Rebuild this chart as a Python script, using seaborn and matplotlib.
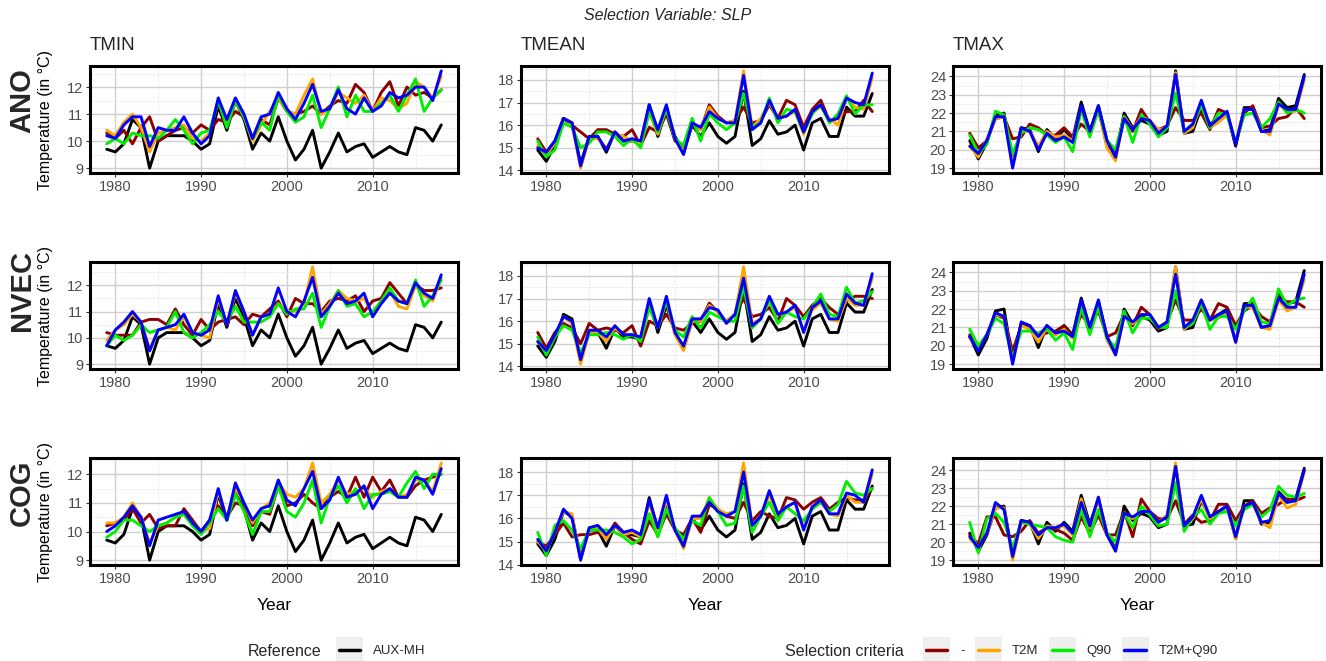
import matplotlib

matplotlib.use("Agg")
import matplotlib.pyplot as plt
from matplotlib.legend_handler import HandlerBase
from matplotlib.lines import Line2D
from matplotlib.patches import Rectangle
from matplotlib.ticker import MultipleLocator
import numpy as np
import pandas as pd
import seaborn as sns

# ---- data ----
YEARS = np.arange(1979, 2019)

ROWS = ["ANO", "NVEC", "COG"]
COLS = ["TMIN", "TMEAN", "TMAX"]
CRITERIA = ["-", "T2M", "Q90", "T2M+Q90"]
REF_NAME = "AUX-MH"

# reference series (same in every row)
REF_TMIN = [9.7, 9.6, 9.9, 10.8, 10.5, 9.0, 10.0, 10.2, 10.2, 10.2, 10.0, 9.7, 9.9, 11.3, 10.4, 11.5, 10.8, 9.7, 10.3, 10.0,
            10.9, 10.0, 9.3, 9.7, 10.4, 9.0, 9.6, 10.3, 9.6, 9.8, 9.9, 9.4, 9.6, 9.8, 9.6, 9.5, 10.5, 10.4, 10.0, 10.6]
REF_TMEAN = [14.9, 14.4, 15.1, 16.3, 16.1, 14.3, 15.5, 15.5, 14.8, 15.7, 15.3, 15.3, 15.2, 16.9, 15.5, 16.7, 15.5, 14.8, 16.0, 15.5,
             16.1, 15.5, 15.2, 15.5, 17.5, 15.1, 15.4, 16.2, 15.6, 15.7, 16.0, 14.9, 16.1, 16.3, 15.5, 15.5, 16.8, 16.4, 16.4, 17.4]
REF_TMAX = [20.5, 19.5, 20.4, 21.9, 22.0, 19.2, 21.2, 21.1, 19.9, 21.1, 20.6, 21.1, 20.6, 22.6, 21.0, 22.4, 20.5, 19.6, 22.0, 21.2,
            21.6, 21.4, 20.8, 21.0, 24.3, 20.9, 21.0, 22.3, 21.4, 21.7, 22.0, 20.2, 22.3, 22.3, 21.0, 21.1, 22.8, 22.3, 22.4, 24.1]

# ANO
ANO_TMIN_NONE = [10.3, 10.1, 10.4, 9.9, 10.5, 10.9, 10.0, 10.2, 10.4, 10.5, 10.3, 10.6, 10.4, 10.8, 10.7, 11.1, 10.9, 10.1, 10.8, 10.6,
                 11.6, 11.1, 11.0, 11.1, 11.3, 11.0, 11.3, 11.5, 11.4, 12.1, 11.8, 11.1, 11.8, 12.2, 11.3, 12.0, 11.7, 11.8, 11.6, 11.9]
ANO_TMIN_T2M = [10.4, 10.2, 10.7, 11.0, 10.5, 9.6, 10.3, 10.4, 10.5, 10.6, 10.1, 10.0, 10.3, 11.5, 10.7, 11.5, 10.9, 10.0, 10.6, 11.1,
                11.6, 11.1, 11.0, 11.7, 12.3, 11.0, 11.2, 11.8, 11.6, 11.4, 11.7, 11.1, 11.6, 11.5, 11.2, 11.4, 12.2, 12.0, 11.6, 12.4]
ANO_TMIN_Q90 = [9.9, 10.1, 9.9, 10.3, 10.2, 10.2, 10.1, 10.4, 10.8, 10.4, 9.9, 10.3, 10.4, 11.5, 10.5, 11.5, 10.9, 10.1, 10.7, 10.4,
                11.7, 11.1, 10.7, 10.9, 11.7, 10.5, 11.2, 12.0, 10.9, 11.7, 11.1, 11.1, 11.4, 11.7, 11.1, 11.7, 12.3, 11.1, 11.6, 11.9]
ANO_TMIN_BOTH = [10.2, 10.1, 10.6, 10.9, 10.9, 9.8, 10.5, 10.4, 10.4, 10.9, 10.3, 9.9, 10.2, 11.6, 10.8, 11.6, 11.0, 10.1, 10.9, 11.0,
                 11.8, 11.2, 10.8, 11.4, 12.1, 11.1, 11.2, 11.9, 11.2, 11.0, 11.6, 11.1, 11.3, 11.8, 11.6, 11.7, 12.0, 12.0, 11.5, 12.6]

ANO_TMEAN_NONE = [15.4, 14.8, 15.3, 16.3, 16.0, 15.7, 15.4, 15.8, 15.8, 15.6, 15.5, 15.8, 15.1, 15.9, 15.7, 16.5, 15.3, 15.1, 16.1, 15.8,
                  16.9, 16.4, 16.1, 16.2, 16.8, 16.1, 16.2, 16.9, 16.3, 17.1, 16.9, 15.9, 16.7, 17.1, 16.2, 16.3, 16.6, 16.6, 17.1, 16.6]
ANO_TMEAN_T2M = [15.1, 14.7, 15.2, 16.1, 16.0, 14.1, 15.4, 15.4, 15.0, 15.6, 15.5, 15.3, 15.2, 16.6, 15.6, 16.8, 15.4, 14.8, 16.1, 15.8,
                 16.8, 16.3, 16.1, 16.2, 18.4, 15.9, 16.3, 17.0, 16.3, 16.4, 16.6, 15.6, 16.6, 16.8, 16.3, 16.0, 17.2, 16.8, 16.7, 18.1]
ANO_TMEAN_Q90 = [15.3, 14.6, 14.9, 16.1, 15.9, 15.0, 15.2, 15.7, 15.7, 15.5, 15.1, 15.4, 15.0, 16.6, 15.7, 16.7, 15.4, 15.1, 16.3, 15.3,
                 16.5, 16.1, 15.8, 16.1, 17.4, 15.9, 16.1, 17.2, 16.1, 16.7, 16.6, 15.7, 16.5, 16.9, 16.1, 16.5, 17.3, 16.5, 16.9, 16.9]
ANO_TMEAN_BOTH = [15.0, 14.8, 15.3, 16.3, 16.1, 14.2, 15.5, 15.5, 14.9, 15.7, 15.3, 15.4, 15.3, 16.9, 15.8, 16.9, 15.4, 14.7, 16.1, 15.9,
                  16.6, 16.3, 16.1, 16.1, 18.2, 15.8, 16.1, 17.1, 16.3, 16.4, 16.7, 15.7, 16.6, 16.9, 16.2, 16.3, 17.2, 17.0, 16.9, 18.3]

ANO_TMAX_NONE = [20.9, 20.1, 20.5, 21.7, 21.8, 20.6, 20.7, 21.4, 21.2, 20.8, 20.8, 21.2, 20.7, 21.4, 21.0, 22.2, 20.2, 19.9, 21.8, 21.0,
                 22.2, 21.5, 21.1, 21.3, 22.3, 21.6, 21.6, 22.0, 21.1, 22.2, 22.0, 20.3, 22.0, 22.4, 21.2, 21.3, 21.7, 21.8, 22.3, 21.7]
ANO_TMAX_T2M = [20.2, 19.6, 20.6, 21.7, 21.8, 19.2, 21.0, 21.0, 20.2, 21.0, 20.7, 20.8, 20.5, 22.3, 20.8, 22.3, 20.1, 19.4, 21.8, 21.1,
                21.8, 21.6, 21.1, 21.2, 24.2, 20.9, 21.2, 22.6, 21.2, 21.5, 21.9, 20.4, 22.2, 22.2, 21.1, 20.8, 22.5, 22.1, 22.1, 23.8]
ANO_TMAX_Q90 = [20.8, 19.8, 20.3, 22.1, 21.9, 19.8, 20.9, 21.2, 21.1, 20.8, 20.4, 20.7, 19.9, 22.2, 20.7, 22.2, 20.5, 20.0, 21.8, 20.4,
                21.9, 21.4, 20.7, 21.2, 23.1, 21.0, 21.4, 22.4, 21.2, 22.0, 21.9, 20.4, 21.9, 22.0, 21.2, 21.7, 22.6, 22.0, 22.2, 22.0]
ANO_TMAX_BOTH = [20.2, 19.8, 20.5, 21.8, 21.8, 19.0, 21.2, 21.0, 20.0, 20.9, 20.5, 20.7, 20.4, 22.4, 21.0, 22.4, 20.5, 19.6, 21.7, 21.1,
                 21.7, 21.6, 20.9, 21.3, 24.1, 21.0, 21.4, 22.7, 21.3, 21.7, 22.1, 20.3, 22.2, 22.2, 21.0, 21.0, 22.5, 22.2, 22.2, 24.0]

# NVEC
NVEC_TMIN_NONE = [10.2, 10.1, 10.1, 10.1, 10.6, 10.7, 10.7, 10.5, 11.1, 10.5, 10.1, 10.7, 10.3, 10.6, 10.7, 10.8, 10.5, 10.9, 10.8, 11.1,
                  11.4, 10.8, 11.5, 11.3, 11.3, 11.0, 11.4, 11.5, 11.4, 11.6, 11.0, 11.4, 11.5, 12.1, 11.7, 11.3, 12.0, 11.8, 11.8, 11.9]
NVEC_TMIN_T2M = [9.9, 10.3, 10.5, 10.9, 10.6, 9.6, 10.3, 10.4, 10.3, 10.8, 10.2, 10.1, 10.0, 11.5, 10.5, 11.7, 11.0, 10.1, 10.8, 10.9,
                 11.3, 11.0, 11.0, 11.3, 12.7, 10.9, 11.3, 11.8, 11.5, 11.4, 11.5, 10.9, 11.4, 11.8, 11.2, 11.1, 12.0, 11.6, 11.4, 12.3]
NVEC_TMIN_Q90 = [9.7, 10.1, 9.9, 10.1, 10.5, 10.2, 10.3, 10.4, 11.0, 10.2, 10.0, 10.2, 10.5, 11.0, 10.6, 11.2, 10.6, 10.6, 10.6, 10.8,
                 11.3, 10.9, 11.1, 11.1, 11.7, 10.4, 11.2, 11.8, 11.2, 11.3, 10.8, 11.0, 11.4, 11.9, 11.4, 11.3, 12.2, 11.2, 11.6, 12.2]
NVEC_TMIN_BOTH = [9.7, 10.3, 10.6, 11.0, 10.6, 9.5, 10.3, 10.4, 10.5, 10.9, 10.2, 10.1, 10.3, 11.6, 10.5, 11.8, 11.0, 10.1, 10.8, 10.9,
                  11.9, 11.0, 10.8, 11.4, 12.3, 10.8, 11.2, 11.7, 11.3, 11.4, 11.7, 10.8, 11.3, 11.7, 11.4, 11.3, 12.1, 11.7, 11.5, 12.4]

NVEC_TMEAN_NONE = [15.5, 14.8, 15.5, 15.9, 15.7, 15.0, 15.9, 15.6, 15.7, 15.6, 15.5, 15.8, 14.9, 16.0, 15.8, 16.3, 15.7, 15.6, 15.9, 16.0,
                   16.8, 16.4, 16.0, 16.3, 17.0, 16.2, 16.3, 16.6, 16.0, 17.0, 16.7, 16.2, 16.7, 17.0, 16.6, 16.3, 16.9, 17.1, 17.1, 17.0]
NVEC_TMEAN_T2M = [15.1, 14.7, 15.3, 16.2, 15.9, 14.1, 15.5, 15.5, 15.1, 15.7, 15.4, 15.4, 15.3, 16.8, 15.7, 16.9, 15.4, 14.7, 16.0, 16.0,
                  16.7, 16.4, 16.0, 16.3, 18.4, 15.9, 16.1, 16.9, 16.3, 16.4, 16.6, 15.6, 16.5, 16.8, 16.1, 16.0, 17.0, 16.7, 16.7, 17.9]
NVEC_TMEAN_Q90 = [15.3, 14.5, 15.3, 15.8, 15.6, 14.6, 15.4, 15.4, 15.5, 15.4, 15.2, 15.4, 15.1, 16.6, 15.7, 16.9, 15.6, 15.3, 16.2, 15.7,
                  16.4, 16.2, 16.0, 16.0, 17.5, 15.7, 16.1, 16.9, 15.9, 16.4, 16.2, 16.1, 16.6, 17.2, 16.3, 16.2, 17.5, 16.8, 16.9, 17.3]
NVEC_TMEAN_BOTH = [15.1, 14.7, 15.4, 16.2, 16.0, 14.3, 15.6, 15.6, 15.3, 15.8, 15.4, 15.4, 15.3, 17.0, 15.7, 17.1, 15.5, 14.9, 16.1, 16.1,
                   16.6, 16.5, 15.9, 16.3, 17.9, 15.8, 16.1, 17.1, 16.3, 16.4, 16.7, 15.5, 16.6, 16.9, 16.1, 16.1, 17.2, 16.8, 16.7, 18.1]

NVEC_TMAX_NONE = [20.6, 19.9, 20.6, 21.7, 21.5, 19.7, 21.1, 21.0, 20.6, 20.7, 20.8, 21.1, 20.5, 21.7, 21.1, 21.9, 20.5, 20.7, 21.7, 21.1,
                  22.1, 21.7, 20.9, 21.3, 22.5, 21.4, 21.4, 22.0, 21.4, 22.3, 22.1, 21.1, 21.9, 22.2, 21.6, 21.3, 22.5, 22.4, 22.4, 22.1]
NVEC_TMAX_T2M = [20.4, 19.8, 20.6, 21.7, 21.6, 19.1, 21.1, 20.9, 20.2, 21.0, 20.6, 20.9, 20.4, 22.4, 20.9, 22.4, 20.3, 19.5, 21.7, 21.2,
                 21.7, 21.7, 21.0, 21.3, 24.3, 20.9, 21.3, 22.5, 21.4, 21.5, 21.8, 20.2, 22.1, 22.1, 21.0, 20.9, 22.5, 21.9, 22.1, 23.6]
NVEC_TMAX_Q90 = [20.9, 20.0, 20.6, 21.5, 21.2, 19.3, 20.8, 20.8, 20.7, 20.9, 20.3, 20.7, 19.8, 22.1, 20.6, 22.1, 20.4, 19.9, 21.9, 20.7,
                 21.5, 21.5, 21.0, 21.0, 23.0, 21.0, 21.2, 22.3, 20.9, 21.6, 21.6, 20.9, 21.9, 22.6, 21.3, 21.2, 23.1, 22.2, 22.5, 22.6]
NVEC_TMAX_BOTH = [20.5, 19.7, 20.6, 21.8, 21.6, 19.0, 21.3, 21.1, 20.5, 21.1, 20.7, 20.8, 20.5, 22.5, 21.0, 22.5, 20.5, 19.5, 21.6, 21.3,
                  21.7, 21.7, 21.0, 21.3, 23.9, 21.0, 21.4, 22.5, 21.4, 21.7, 21.9, 20.2, 22.2, 22.2, 21.0, 21.1, 22.6, 22.1, 22.1, 23.9]

# COG
COG_TMIN_NONE = [10.2, 10.3, 10.4, 10.8, 10.3, 10.6, 10.1, 10.2, 10.2, 10.8, 10.4, 10.0, 10.4, 10.9, 10.5, 11.0, 10.9, 10.2, 10.7, 10.6,
                 11.6, 10.9, 11.0, 11.3, 11.0, 10.8, 11.2, 11.4, 11.2, 11.9, 11.2, 11.9, 11.4, 11.8, 11.2, 11.2, 11.6, 11.8, 11.9, 12.0]
COG_TMIN_T2M = [10.3, 10.3, 10.5, 11.0, 10.5, 9.6, 10.2, 10.3, 10.5, 10.6, 10.3, 10.0, 10.1, 11.4, 10.5, 11.5, 11.0, 10.3, 10.8, 11.0,
                11.7, 11.3, 11.2, 11.5, 12.4, 11.0, 11.3, 11.8, 11.3, 11.4, 11.5, 11.2, 11.4, 11.5, 11.2, 11.3, 11.8, 11.8, 11.4, 12.4]
COG_TMIN_Q90 = [9.8, 10.0, 10.4, 10.4, 10.2, 10.0, 10.2, 10.3, 10.5, 10.6, 10.2, 9.9, 10.3, 10.8, 10.4, 11.3, 10.7, 9.9, 10.7, 10.7,
                11.6, 10.7, 10.5, 11.0, 11.8, 10.3, 11.2, 11.6, 11.0, 11.5, 10.8, 11.3, 11.3, 11.4, 11.2, 11.7, 12.1, 11.5, 12.0, 12.0]
COG_TMIN_BOTH = [10.0, 10.2, 10.5, 10.9, 10.5, 9.5, 10.4, 10.5, 10.6, 10.7, 10.3, 10.0, 10.4, 11.5, 10.4, 11.7, 11.0, 10.4, 10.8, 10.9,
                 11.8, 11.1, 10.9, 11.5, 12.1, 10.8, 11.1, 11.9, 11.2, 11.3, 11.6, 10.8, 11.3, 11.5, 11.2, 11.2, 11.9, 11.8, 11.3, 12.2]

COG_TMEAN_NONE = [15.0, 14.8, 15.3, 15.8, 15.2, 15.3, 15.3, 15.4, 15.2, 15.8, 15.4, 15.1, 14.9, 15.9, 15.3, 16.2, 15.5, 15.3, 16.0, 15.4,
                  16.6, 16.4, 16.1, 16.0, 16.7, 15.9, 16.3, 16.1, 16.0, 16.9, 16.8, 16.4, 16.7, 16.9, 16.4, 16.7, 16.9, 16.8, 16.8, 17.3]
COG_TMEAN_T2M = [15.0, 14.6, 15.4, 16.3, 16.2, 14.2, 15.6, 15.6, 15.1, 15.7, 15.3, 15.4, 15.2, 16.7, 15.4, 16.8, 15.5, 14.7, 16.0, 16.0,
                 16.9, 16.4, 16.2, 16.3, 18.4, 15.7, 16.1, 17.0, 16.2, 16.5, 16.7, 15.6, 16.5, 16.7, 16.2, 16.1, 17.0, 16.7, 16.7, 17.9]
COG_TMEAN_Q90 = [15.4, 14.4, 15.7, 15.9, 15.5, 14.7, 15.5, 15.5, 15.5, 15.4, 15.2, 14.9, 15.1, 16.2, 15.2, 16.4, 15.6, 15.1, 15.9, 15.7,
                 16.9, 16.3, 15.7, 15.8, 17.4, 15.4, 16.1, 16.7, 15.9, 16.5, 16.2, 15.9, 16.4, 16.7, 16.3, 16.6, 17.6, 17.1, 17.0, 17.3]
COG_TMEAN_BOTH = [15.1, 14.6, 15.4, 16.4, 16.0, 14.2, 15.6, 15.7, 15.3, 15.7, 15.4, 15.5, 15.3, 16.8, 15.6, 17.0, 15.5, 14.8, 16.1, 16.1,
                  16.7, 16.3, 16.1, 16.3, 18.0, 15.7, 16.1, 17.2, 16.2, 16.5, 16.7, 15.5, 16.5, 16.8, 16.2, 16.2, 17.1, 17.0, 16.7, 18.1]

COG_TMAX_NONE = [20.4, 19.9, 21.4, 21.4, 20.4, 20.3, 20.6, 21.2, 20.5, 20.8, 20.7, 20.5, 20.1, 21.4, 20.5, 21.5, 20.4, 20.4, 21.7, 20.3,
                 22.4, 21.7, 21.3, 21.3, 22.3, 21.0, 21.5, 21.1, 21.2, 22.1, 22.1, 21.2, 22.0, 22.3, 21.6, 21.9, 22.1, 22.4, 22.3, 22.5]
COG_TMAX_T2M = [20.2, 19.7, 20.5, 21.9, 21.9, 19.0, 21.1, 21.0, 20.2, 20.9, 20.8, 20.9, 20.4, 22.4, 20.8, 22.4, 20.4, 19.5, 21.6, 21.3,
                21.7, 21.7, 21.1, 21.5, 24.4, 20.8, 21.3, 22.4, 21.3, 21.6, 21.9, 20.2, 22.0, 22.1, 21.1, 20.8, 22.6, 21.9, 22.1, 23.9]
COG_TMAX_Q90 = [21.1, 19.4, 21.3, 21.6, 21.1, 19.7, 21.1, 21.0, 20.9, 20.8, 20.3, 20.1, 20.0, 21.8, 20.3, 21.8, 20.5, 20.0, 21.6, 20.8,
                22.0, 21.5, 20.9, 21.0, 23.3, 20.6, 21.4, 21.8, 21.0, 21.6, 21.7, 20.9, 21.8, 22.1, 21.4, 21.8, 23.1, 22.6, 22.5, 22.7]
COG_TMAX_BOTH = [20.3, 19.7, 20.5, 22.2, 21.8, 19.2, 21.2, 21.1, 20.4, 20.8, 20.8, 21.0, 20.5, 22.2, 20.9, 22.5, 20.4, 19.5, 21.6, 21.4,
                 21.7, 21.7, 21.1, 21.4, 24.2, 20.9, 21.4, 22.6, 21.4, 21.7, 22.0, 20.3, 22.0, 22.2, 21.1, 21.2, 22.7, 22.2, 22.3, 24.0]

REFERENCE = {"TMIN": REF_TMIN, "TMEAN": REF_TMEAN, "TMAX": REF_TMAX}
SERIES = {
    ("ANO", "TMIN"): [ANO_TMIN_NONE, ANO_TMIN_T2M, ANO_TMIN_Q90, ANO_TMIN_BOTH],
    ("ANO", "TMEAN"): [ANO_TMEAN_NONE, ANO_TMEAN_T2M, ANO_TMEAN_Q90, ANO_TMEAN_BOTH],
    ("ANO", "TMAX"): [ANO_TMAX_NONE, ANO_TMAX_T2M, ANO_TMAX_Q90, ANO_TMAX_BOTH],
    ("NVEC", "TMIN"): [NVEC_TMIN_NONE, NVEC_TMIN_T2M, NVEC_TMIN_Q90, NVEC_TMIN_BOTH],
    ("NVEC", "TMEAN"): [NVEC_TMEAN_NONE, NVEC_TMEAN_T2M, NVEC_TMEAN_Q90, NVEC_TMEAN_BOTH],
    ("NVEC", "TMAX"): [NVEC_TMAX_NONE, NVEC_TMAX_T2M, NVEC_TMAX_Q90, NVEC_TMAX_BOTH],
    ("COG", "TMIN"): [COG_TMIN_NONE, COG_TMIN_T2M, COG_TMIN_Q90, COG_TMIN_BOTH],
    ("COG", "TMEAN"): [COG_TMEAN_NONE, COG_TMEAN_T2M, COG_TMEAN_Q90, COG_TMEAN_BOTH],
    ("COG", "TMAX"): [COG_TMAX_NONE, COG_TMAX_T2M, COG_TMAX_Q90, COG_TMAX_BOTH],
}

PALETTE = {REF_NAME: "black", "-": "#8b0000", "T2M": "#ffa500", "Q90": "#00ee00", "T2M+Q90": "#0000ff"}
ORDER = [REF_NAME] + CRITERIA

# long table for seaborn
records = []
for (row, col), lists in SERIES.items():
    for name, vals in zip(ORDER, [REFERENCE[col]] + lists):
        assert len(vals) == len(YEARS), (row, col, name)
        for yr, v in zip(YEARS, vals):
            records.append({"Method": row, "Variable": col, "Series": name, "Year": yr, "Temp": v})
df = pd.DataFrame(records)

# ---- figure ----
sns.set_theme(style="white")
plt.rcParams["font.family"] = ["Liberation Sans", "DejaVu Sans"]

W, H = 1326, 661
fig = plt.figure(figsize=(W / 100, H / 100), dpi=100)

col_x = [90, 521, 953]
row_y = [66, 262, 458]
pw, ph = 368, 107
row_label_y = [101, 290, 493]

for i, row in enumerate(ROWS):
    for j, col in enumerate(COLS):
        ax = fig.add_axes([col_x[j] / W, 1 - (row_y[i] + ph) / H, pw / W, ph / H])
        sub = df[(df["Method"] == row) & (df["Variable"] == col)]
        sns.lineplot(data=sub, x="Year", y="Temp", hue="Series", hue_order=ORDER,
                     palette=PALETTE, linewidth=2.1, legend=False, ax=ax)
        ax.margins(x=0.05, y=0.05)
        ax.xaxis.set_major_locator(MultipleLocator(10))
        ax.xaxis.set_minor_locator(MultipleLocator(5))
        ax.yaxis.set_major_locator(MultipleLocator(1))
        ax.yaxis.set_minor_locator(MultipleLocator(0.5))
        ax.grid(which="major", color="#cfcfcf", linewidth=1.0)
        ax.grid(which="minor", color="#e6e6e6", linewidth=0.6, linestyle=(0, (3, 2)))
        ax.set_axisbelow(True)
        for s in ax.spines.values():
            s.set_color("black")
            s.set_linewidth(2.2)
        ax.tick_params(which="major", length=3, width=0.8, color="#333333",
                       labelsize=10.5, labelcolor="#4d4d4d", pad=2, bottom=True, left=True)
        ax.tick_params(which="minor", length=0)

        if j == 0:
            ax.set_ylabel("Temperature (in °C)", fontsize=11.5, color="black")
            ax.yaxis.set_label_coords(-0.10, 0.5)
        else:
            ax.set_ylabel("")
        if i == 2:
            ax.set_xlabel("Year", fontsize=12.5, color="black")
            ax.xaxis.set_label_coords(0.5, -0.31)
        else:
            ax.set_xlabel("")

        if i == 0:
            fig.text(col_x[j] / W, 1 - 45 / H, col, fontsize=13.5, ha="left", va="center")
    fig.text(22 / W, 1 - row_label_y[i] / H, row, fontsize=21, fontweight="bold",
             rotation=90, ha="center", va="center")

fig.text(668 / W, 1 - 16 / H, "Selection Variable: SLP", fontsize=11.5, style="italic",
         ha="center", va="center")


# legend keys: grey square with a short line, like ggplot
class KeyHandler(HandlerBase):
    def create_artists(self, legend, orig_handle, xdescent, ydescent, width, height, fontsize, trans):
        yc = height / 2 - ydescent
        bg = Rectangle((-xdescent, yc - 9), width, 18, facecolor="#efefef",
                       edgecolor="none", transform=trans)
        line = Line2D([-xdescent + 2, -xdescent + width - 2], [yc, yc],
                      color=orig_handle.get_color(), linewidth=2.5, transform=trans)
        return [bg, line]


ly = 1 - 651 / H
leg_kw = dict(frameon=False, fontsize=9.5, handlelength=2.05, handletextpad=0.75,
              borderpad=0, borderaxespad=0, handler_map={Line2D: KeyHandler()})

fig.text(248 / W, ly, "Reference", fontsize=11.5, ha="left", va="center")
ref_handles = [Line2D([], [], color=PALETTE[REF_NAME])]
fig.legend(ref_handles, [REF_NAME], loc="center left", bbox_to_anchor=(336 / W, ly), **leg_kw)

fig.text(785 / W, ly, "Selection criteria", fontsize=11.5, ha="left", va="center")
crit_handles = [Line2D([], [], color=PALETTE[c]) for c in CRITERIA]
fig.legend(crit_handles, CRITERIA, loc="center left", bbox_to_anchor=(923 / W, ly), ncol=4,
           columnspacing=0.8, **leg_kw)

fig.savefig("out.png", dpi=100)
plt.close(fig)
